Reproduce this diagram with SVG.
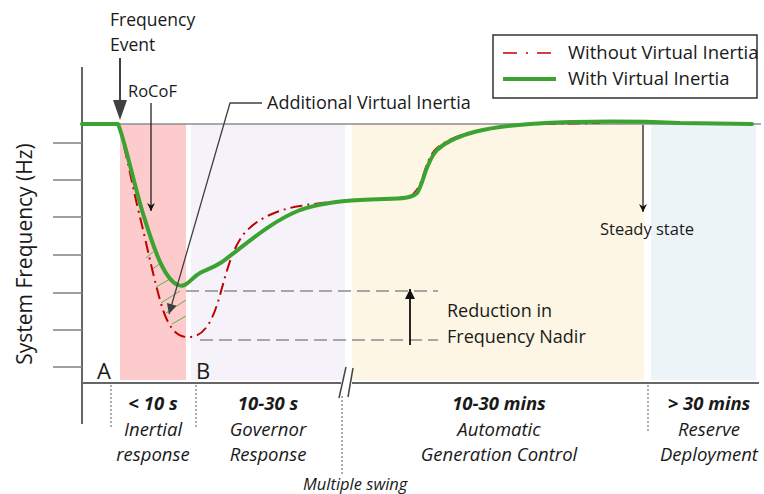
<svg xmlns="http://www.w3.org/2000/svg" width="764" height="494" viewBox="0 0 764 494">
  <style>
    text { font-family: "Open Sans", "Noto Sans", "Liberation Sans", sans-serif; fill: #1a1a1a; }
    .lbl { font-size: 18px; }
    .it { font-style: italic; font-size: 18.5px; text-anchor: middle; }
    .bi { font-style: italic; font-weight: bold; font-size: 18.5px; text-anchor: middle; }
    .axis { stroke: #666; stroke-width: 2; fill: none; }
    .tick { stroke: #808080; stroke-width: 1.5; }
    .dot { stroke: #808080; stroke-width: 1.3; stroke-dasharray: 2 2; fill: none; }
    .dash { stroke: #8c8c8c; stroke-width: 1.5; stroke-dasharray: 13 6; fill: none; }
    .green { stroke: #3ca232; stroke-width: 4; fill: none; stroke-linecap: round; stroke-linejoin: round; }
    .red { stroke: #c00000; stroke-width: 2; fill: none; stroke-dasharray: 12 5 2 5; }
    .hatch { stroke: #5cb04f; stroke-width: 1; }
    .ptr { stroke: #404040; stroke-width: 1.3; fill: none; }
  </style>
  <defs>
    <marker id="headBlack" viewBox="0 0 10 10" refX="10" refY="5" markerWidth="10" markerHeight="8" markerUnits="userSpaceOnUse" orient="auto">
      <path d="M0,0 L10,5 L0,10 L3,5 Z" fill="#111"/>
    </marker>
    <marker id="headNadir" viewBox="0 0 10 10" refX="10" refY="5" markerWidth="14" markerHeight="10" markerUnits="userSpaceOnUse" orient="auto">
      <path d="M0,0 L10,5 L0,10 Z" fill="#111"/>
    </marker>
    <marker id="headSlant" viewBox="0 0 10 10" refX="10" refY="5" markerWidth="14" markerHeight="10" markerUnits="userSpaceOnUse" orient="auto">
      <path d="M0,0 L10,5 L0,10 Z" fill="#404040"/>
    </marker>
  </defs>

  <!-- time-scale bands -->
  <g id="bands">
    <rect x="120" y="124" width="66" height="256" fill="#fdcbcb"/>
    <rect x="191" y="124" width="154" height="256" fill="#f5f3f9"/>
    <rect x="352" y="124" width="292" height="256" fill="#fdf6e4"/>
    <rect x="651" y="124" width="105" height="256" fill="#ecf4f8"/>
  </g>

  <!-- axes -->
  <g id="axes">
    <line x1="82" y1="124" x2="761" y2="124" stroke="#8c8c8c" stroke-width="1.5"/>
    <line class="axis" x1="82" y1="67" x2="82" y2="424"/>
    <path class="axis" d="M82,383 H341 M352,383 H759"/>
    <g class="tick">
      <line x1="53" y1="143" x2="82" y2="143"/>
      <line x1="53" y1="180" x2="82" y2="180"/>
      <line x1="53" y1="217" x2="82" y2="217"/>
      <line x1="53" y1="255" x2="82" y2="255"/>
      <line x1="53" y1="293" x2="82" y2="293"/>
      <line x1="53" y1="330" x2="82" y2="330"/>
      <line x1="53" y1="367" x2="82" y2="367"/>
    </g>
    <path d="M346,367 L339,398 M353,368 L348,397" stroke="#444" stroke-width="1.5" fill="none"/>
    <text x="24" y="254" font-size="21" text-anchor="middle" dominant-baseline="central" transform="rotate(-90 24 254)">System Frequency (Hz)</text>
  </g>

  <!-- nadir reference lines -->
  <g id="nadir-lines">
    <line class="dash" x1="186" y1="291" x2="438" y2="291"/>
    <line class="dash" x1="200" y1="340" x2="438" y2="340"/>
  </g>

  <!-- hatched area between the two responses -->
  <g id="hatch" class="hatch">
    <line x1="146" y1="258" x2="153" y2="252"/>
    <line x1="151" y1="270" x2="161" y2="263"/>
    <line x1="156" y1="287" x2="170" y2="279"/>
    <line x1="161" y1="303" x2="180" y2="291"/>
    <line x1="166" y1="313" x2="186" y2="300"/>
    <line x1="172" y1="324" x2="186" y2="316"/>
  </g>

  <!-- frequency responses -->
  <g id="curves">
    <path class="red" d="M118,124 C125,145 133,190 140,217 C148,250 155,285 163,310 C170,330 178,338 190,337 C205,336 213,320 220,295 C227,270 232,250 243,235 C255,220 275,210 300,206 C330,201 360,200 395,199 C410,198 413,196 418,188 C424,178 426,160 435,150 C450,135 480,128 530,124 L600,123"/>
    <path class="green" d="M82,124 L118,124 C125,140 135,190 145,220 C155,252 165,280 178,285 C186,288 190,280 197,275 C203,270 210,270 222,262 C245,245 270,222 300,210 C320,203 340,201 360,200 C395,198 410,200 417,193 C424,183 425,163 437,150 C455,133 490,127 530,124 C580,121 630,121 680,123 L752,124"/>
  </g>

  <!-- annotations -->
  <g id="frequency-event">
    <text x="110" y="26" font-size="17.5">Frequency</text>
    <text x="110" y="51" font-size="17.5">Event</text>
    <line x1="120" y1="58" x2="120" y2="101" stroke="#404040" stroke-width="2"/>
    <polygon points="113,100 127,100 120,120" fill="#404040"/>
  </g>
  <g id="rocof">
    <text x="128" y="97" font-size="16.5">RoCoF</text>
    <line x1="151" y1="103" x2="151" y2="211" stroke="#111" stroke-width="1.2" marker-end="url(#headBlack)"/>
  </g>
  <g id="additional-inertia">
    <text x="267" y="109" font-size="18">Additional Virtual Inertia</text>
    <polyline class="ptr" points="262,103 230,103 169,314" marker-end="url(#headSlant)"/>
  </g>
  <g id="nadir-reduction">
    <line x1="410" y1="345" x2="410" y2="289" stroke="#111" stroke-width="1.8" marker-end="url(#headNadir)"/>
    <text class="lbl" x="447" y="317">Reduction in</text>
    <text class="lbl" x="447" y="343">Frequency Nadir</text>
  </g>
  <g id="steady-state">
    <line x1="643" y1="125" x2="643" y2="212" stroke="#111" stroke-width="1.2" marker-end="url(#headBlack)"/>
    <text x="600" y="235" font-size="16.5">Steady state</text>
  </g>
  <g id="points">
    <text x="97" y="379" font-size="22">A</text>
    <text x="196" y="379" font-size="22">B</text>
  </g>

  <!-- legend -->
  <g id="legend">
    <rect x="493" y="35" width="264" height="63" fill="#fff" stroke="#333" stroke-width="1.5"/>
    <line x1="503" y1="53" x2="556" y2="53" stroke="#c00000" stroke-width="2" stroke-dasharray="14 9 2 9" opacity="0.75"/>
    <text x="568" y="59" font-size="18.5">Without Virtual Inertia</text>
    <line x1="503" y1="79" x2="556" y2="79" stroke="#3ca232" stroke-width="4"/>
    <text x="568" y="85" font-size="18.5">With Virtual Inertia</text>
  </g>

  <!-- time-scale labels -->
  <g id="timescales">
    <line class="dot" x1="111" y1="385" x2="111" y2="428"/>
    <line class="dot" x1="196" y1="385" x2="196" y2="428"/>
    <line class="dot" x1="342" y1="396" x2="342" y2="476"/>
    <line class="dot" x1="648" y1="385" x2="648" y2="432"/>
    <text class="bi" x="153" y="410">&lt; 10 s</text>
    <text class="it" x="153" y="436">Inertial</text>
    <text class="it" x="153" y="461">response</text>
    <text class="bi" x="268" y="410">10-30 s</text>
    <text class="it" x="268" y="436">Governor</text>
    <text class="it" x="268" y="461">Response</text>
    <text class="bi" x="499" y="410">10-30 mins</text>
    <text class="it" x="499" y="436">Automatic</text>
    <text class="it" x="499" y="461">Generation Control</text>
    <text class="bi" x="709" y="410">&gt; 30 mins</text>
    <text class="it" x="709" y="436">Reserve</text>
    <text class="it" x="709" y="461">Deployment</text>
    <text x="303" y="490" font-size="16.5" font-style="italic">Multiple swing</text>
  </g>
</svg>
